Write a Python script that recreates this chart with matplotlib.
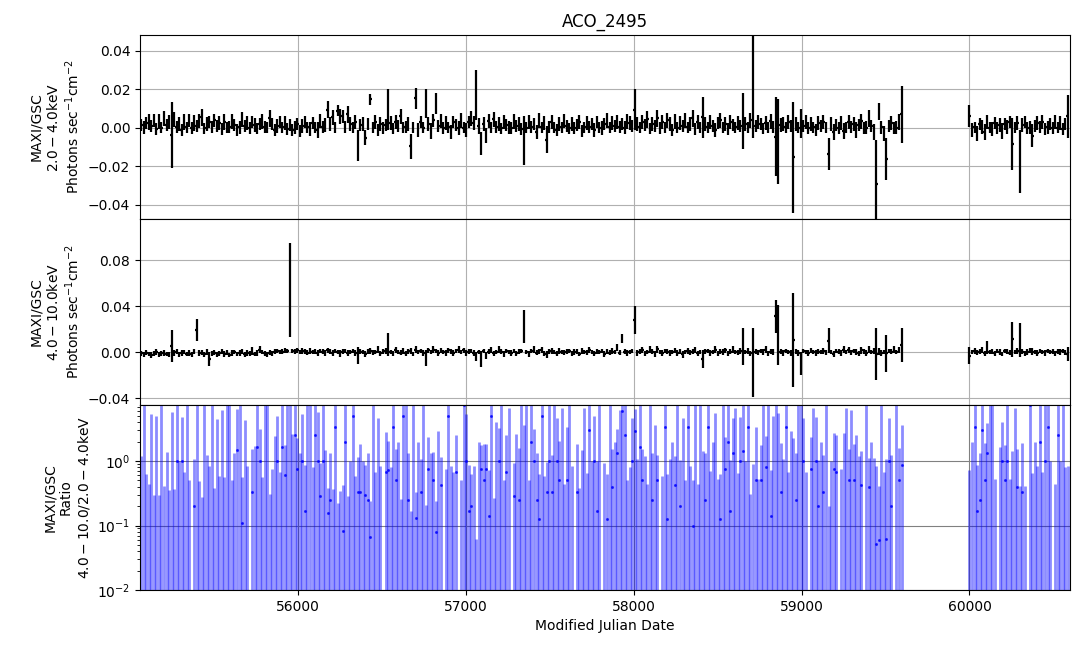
import numpy as np
import matplotlib
matplotlib.use("Agg")
import matplotlib.pyplot as plt

TITLE = "ACO_2495"
BIN_DAYS = 15.0
SEG1_START = 55065.0
SEG2_START = 60000.0

# 2.0-4.0 keV rate (units of 1e-3 photons/s/cm2), segment 1 then segment 2
y1_seg1 = [
    1.5, 0.3, 2.5, 3.0, 1.0, 4.0, -0.5, 3.5, 0.2, 5.0, 1.5, 3.0, -3.8, 4.5, 0.5,
    2.0, -1.0, 3.0, 0.3, 4.0, 0.0, 2.5, 1.0, 3.5, 5.5, -0.2, 2.0, 3.0, 0.5, 4.0,
    1.0, 2.5, -0.5, 3.0, 0.2, 0.5, 3.5, 1.5, -1.0, 0.3, 4.5, 1.0, 2.5, 0.0, 3.0,
    1.5, -0.3, 2.0, 3.5, 0.5, 0.2, 5.0, 2.0, -1.0, 1.0, 3.0, 0.3, 2.5, -0.5, 1.5,
    -1.0, 0.2, 2.0, -1.5, 1.0, 3.0, 0.3, -0.5, 2.5, 0.2, -1.0, 3.5, 0.5, 1.5, 9.5,
    2.0, 5.5, 0.3, 9.0, 6.0, 6.0, 0.5, 7.0, 2.0, 0.2, 3.0, -9.0, 1.5, 2.0, -5.0,
    2.0, 14.8, 0.3, 3.0, -1.0, 2.0, 0.0, 1.5, 9.5, 2.5, -0.3, 3.0, 1.0, 6.0, 0.2,
    0.5, 2.0, -9.5, 0.3, 15.5, -1.0, 3.0, 0.2, 12.5, 2.0, -1.5, 4.0, 12.5, 1.0, 3.5,
    0.0, 2.5, 0.3, -2.0, 3.0, 1.5, 0.0, 4.0, 0.2, -1.0, 3.0, 5.0, 2.5, 17.0, 1.0,
    -8.0, 2.0, -4.0, 3.5, 0.3, 4.5, 0.5, 2.0, -0.2, 3.0, 1.5, 0.3, 0.0, 3.5, 1.0,
    2.0, -0.5, -6.5, 0.2, 3.0, 0.5, 2.0, -2.0, 4.0, 0.3, 2.5, -6.0, 0.5, 3.0, 0.2,
    -1.0, 2.0, 0.3, 3.5, 1.0, -0.2, 2.0, 0.0, 1.5, 3.0, -1.5, 0.3, 2.5, 0.5, 2.0,
    -1.0, 3.0, 0.2, 0.0, 2.0, 4.0, 0.3, 2.5, 1.0, 3.0, 0.5, 2.0, 0.2, 3.5, 2.5,
    1.0, 9.5, 2.0, 0.3, 3.0, 1.5, 4.5, -0.2, 2.0, 1.0, 5.0, 0.0, 3.0, 0.3, 4.0,
    2.0, -1.0, 3.5, 0.2, 2.5, 1.0, 4.0, 0.3, 2.0, 5.0, -0.5, 3.0, 0.2, 5.5, 2.0,
    0.3, 3.0, 1.0, -1.0, 2.5, 4.0, 0.2, 2.0, -0.5, 3.0, 1.5, 0.3, 2.5, 1.0, 3.5,
    2.0, 0.3, 4.0, 25.5, 1.0, 3.0, 2.0, -0.3, 2.5, 0.2, 3.5, 0.5, -4.5, -7.0, 1.5,
    2.0, 0.3, 3.0, 1.0, -15.2, 2.0, 0.2, 2.5, 1.0, 3.0, 0.0, 2.0, 0.3, -1.0, 2.5,
    1.0, 3.0, 0.2, -13.5, 2.0, -2.0, 1.5, 0.0, 2.5, -1.5, 0.3, 3.0, 0.5, 2.0, -1.0,
    1.5, 3.5, 0.0, 0.2, 5.0, 1.0, -2.0, -29.0, 8.5, 0.3, -3.0, -16.0, 1.0, 2.5, 0.0,
    0.2, 3.0, 7.0,
]
y1_seg2 = [
    6.2, -1.0, 0.3, -3.0, 2.0, 0.5, -2.0, 3.0, 0.2, -0.5, 2.5, 0.0, 1.5, -1.5, 2.0,
    0.5, 3.0, -8.5, 0.3, 2.5, -17.5, 1.5, 3.0, 0.0, 0.2, -4.0, 1.0, 2.5, 0.5, 3.0,
    -0.5, 0.3, 2.0, 0.0, 3.0, 0.2, 2.5, -0.5, 2.0, 6.0,
]
e1_seg1 = [
    3, 3.5, 3, 4, 3, 3.5, 3, 4, 3, 4, 3, 3.5, 17.2, 4, 3,
    3.5, 3, 4, 3, 3.5, 3, 4, 3, 3.5, 4.5, 3, 3.5, 3, 3, 3.5,
    3, 3.5, 3, 4, 3, 3, 4, 3, 3, 3.5, 4, 3, 3.5, 3, 3,
    3.5, 3, 3, 4, 3, 3, 4.5, 3, 3, 3.5, 3, 3, 3.5, 3, 3,
    3, 3.5, 3, 3, 3.5, 3, 3, 3.5, 3, 3, 4, 3.5, 3, 3.5, 4.5,
    3.5, 4, 3, 3, 4, 3.5, 3, 4.5, 3.5, 3, 3.5, 8, 3, 3.5, 4,
    3, 2.9, 3, 3.5, 3, 3.5, 3, 3, 10.5, 3.5, 3, 3.5, 3, 4, 3,
    3, 3.5, 6.5, 3, 5.5, 3.5, 3, 3, 7.5, 3.5, 4, 3.5, 5.5, 3, 3.5,
    3, 3.5, 3, 3.5, 3, 3, 3.5, 4, 3, 3.5, 3, 4, 3.5, 13, 4,
    6, 3.5, 4, 3.5, 3, 4, 3, 3.5, 3, 3.5, 3, 3.5, 3, 4, 3,
    3.5, 3, 12.5, 3, 3.5, 3, 3, 3.5, 4, 3, 3.5, 7, 3, 3.5, 3,
    3, 3.5, 3, 3.5, 3, 3, 3.5, 3, 3, 3.5, 3, 3, 3.5, 3, 3,
    3.5, 3, 3, 3.5, 3, 4, 3, 3.5, 3, 3.5, 3, 3, 3.5, 4, 3.5,
    3, 10.5, 3.5, 3, 3.5, 3, 4.5, 3, 3.5, 3, 4.5, 3, 3.5, 3, 4,
    3.5, 3, 4, 3, 3.5, 3, 4, 3, 3.5, 4.5, 3, 3.5, 3, 10.5, 3.5,
    3, 3.5, 3, 3.5, 3, 4, 3, 3.5, 3, 3.5, 3, 3, 3.5, 3, 14.5,
    3.5, 3, 4, 30.5, 3, 3.5, 3, 3, 3.5, 3, 4, 3, 20.5, 22, 3.5,
    3.5, 3, 3.5, 3, 28.8, 3.5, 3, 7.5, 3, 3.5, 3, 3.5, 3, 3, 3.5,
    3, 3.5, 3, 8.5, 3.5, 4, 3, 3, 3.5, 4, 3, 3.5, 3, 3.5, 4,
    3, 4, 3, 3.5, 4.5, 3, 4, 23, 4.5, 3.5, 4, 11, 3, 3.5, 3,
    3.5, 4, 15,
]
e1_seg2 = [
    5.8, 3.5, 3, 4, 3, 3.5, 4, 3.5, 3, 3.5, 3, 3, 3.5, 4, 3,
    3.5, 3, 13.5, 3, 3.5, 16.5, 3.5, 3, 3, 3.5, 6, 3, 3.5, 3, 3.5,
    3, 3.5, 3, 3, 3.5, 3, 3.5, 3, 3, 11,
]

# 4.0-10.0 keV rate (units of 1e-3 photons/s/cm2)
y2_seg1 = [
    -1.0, -2.0, -0.5, -1.5, -2.5, -1.0, 0.0, -2.0, -1.0, -0.5, -1.5, -2.0, 5.0, -1.0, 0.5,
    -2.0, -1.0, 0.0, -1.5, -0.5, -2.0, 0.5, 19.5, -1.0, -0.5, -2.0, 0.0, -6.0, -1.0, -0.5,
    -2.0, -1.0, 0.5, -1.5, -0.5, -2.5, -1.0, 0.0, -1.5, -1.0, 0.5, -2.0, -0.5, -1.0, 1.0,
    -1.5, -0.5, 2.0, 0.0, -1.0, -2.0, -0.5, -1.0, 0.5, 1.0, 0.0, 0.5, 1.5, 1.0, 54.0,
    1.0, 0.5, 1.5, 0.0, 1.0, 0.5, -0.5, 1.0, 0.0, 0.5, -1.0, 1.0, 0.5, -0.5, 1.5,
    0.5, -0.5, 1.0, 0.0, -1.0, 0.5, 1.0, -0.5, 0.0, 1.0, -1.0, -3.0, 0.5, 0.0, -1.5,
    0.5, 1.0, -0.5, 0.0, 2.0, -1.0, 0.5, 1.0, 7.0, 0.0, -1.0, 1.5, 0.0, -0.5, 1.0,
    -1.0, 0.5, 1.0, -1.5, 2.0, 0.0, 1.0, -0.5, -5.0, 1.5, 0.0, 2.0, 1.0, -1.0, 1.5,
    0.0, -1.0, 1.5, 0.5, -0.5, 1.0, 2.0, 0.0, 1.5, -1.0, 0.5, 1.0, -0.5, -4.0, 0.0,
    -6.0, 1.0, -3.0, 0.5, 1.5, -1.0, 0.0, 2.0, 0.5, -1.5, 1.0, 0.0, -0.5, 1.0, -1.0,
    0.5, 1.0, 22.5, 0.0, -1.5, 1.0, 2.0, -0.5, 0.5, 1.5, -1.0, -2.0, 0.5, 1.0, 0.0,
    -1.0, 1.0, 0.0, -0.5, 0.5, 1.0, -1.0, 0.0, 0.5, -1.5, 1.0, 0.0, -0.5, 1.5, 0.0,
    -1.0, 0.5, 0.0, 1.0, -1.5, 0.5, -0.5, 1.0, 0.0, 4.0, -0.5, 12.0, 0.5, -1.0, 0.0,
    1.0, 28.0, -0.5, 0.5, 1.5, -1.0, 0.0, 2.0, 0.5, -1.5, 2.5, 0.0, -1.0, 1.0, 0.5,
    -0.5, 0.0, 1.5, -1.0, 0.5, -2.0, 0.0, 1.0, -0.5, 0.5, 1.5, -1.0, 0.0, -6.0, 0.5,
    1.0, -0.5, 0.0, 2.0, -1.0, 0.5, 0.0, 1.5, -1.0, 0.5, 2.0, 0.0, -0.5, 1.0, 5.0,
    0.0, 1.0, -1.0, -9.0, 0.5, -0.5, 1.0, 0.0, 2.0, -1.0, 0.5, 0.0, 31.0, 15.0, 0.5,
    -0.5, 1.0, 0.0, -1.0, 10.5, 0.5, -0.5, -10.0, 1.0, 0.0, -0.5, 1.5, 0.0, -1.0, 0.5,
    0.0, 1.0, -0.5, 10.0, 0.0, -1.5, 1.0, 0.5, -1.0, 2.0, 0.0, 1.5, -0.5, 1.0, 0.0,
    -1.0, 1.5, 0.5, -0.5, 2.0, 0.0, 1.0, -1.5, 0.5, -1.0, 0.0, -1.0, 1.0, 0.5, 2.0,
    0.0, 1.5, 6.0,
]
y2_seg2 = [
    -3.0, 0.0, 1.0, -0.5, 0.5, 1.5, -1.0, 4.0, 0.0, 0.5, -1.0, 1.0, 0.0, -1.5, 1.0,
    0.5, -0.5, 11.0, 0.0, 1.0, 10.5, 0.5, -1.0, 0.0, 1.5, 0.5, 0.0, -0.5, 1.0, 0.0,
    -0.5, 1.0, 0.0, 0.5, -1.0, 0.5, 0.0, 1.0, -0.5, -2.0,
]
e2_seg1 = [
    2, 2.5, 2, 2, 2.5, 2, 2.5, 2, 2, 2.5, 2, 2, 14, 2.5, 2,
    2, 2.5, 2, 2, 2.5, 2, 2, 9.5, 2.5, 2, 2, 2.5, 6, 2, 2,
    2.5, 2, 2, 2.5, 2, 2, 2.5, 2, 2, 2.5, 2, 2, 2.5, 2, 3.5,
    2, 2.5, 3, 2, 2, 2.5, 2, 2, 2.5, 2, 2, 2.5, 2, 2, 41,
    2, 2.5, 2, 2, 2.5, 2, 2, 2.5, 2, 2, 2.5, 2, 2, 2.5, 2,
    2, 2.5, 2, 2, 3, 2, 2, 2.5, 2, 2, 2.5, 7, 2, 2, 2.5,
    2, 2.5, 2, 2, 3, 2, 2, 2.5, 10, 2, 2, 2.5, 2, 2, 2.5,
    2, 2, 2.5, 2, 3, 2, 2, 2.5, 7, 2, 2, 3, 2, 2.5, 2,
    2, 2.5, 2, 2, 2.5, 2, 3, 2, 2, 2.5, 2, 2, 2.5, 4, 2,
    7, 2, 3, 2, 2.5, 2, 2, 3, 2, 2.5, 2, 2, 2.5, 2, 2,
    2.5, 2, 14.5, 2, 2.5, 2, 3, 2, 2, 2.5, 2, 3, 2, 2.5, 2,
    2, 2.5, 2, 2, 2.5, 2, 2, 2.5, 2, 2, 2.5, 2, 2, 2.5, 2,
    2, 2.5, 2, 2, 2.5, 2, 2, 2.5, 2, 3, 2, 4, 2, 2.5, 2,
    2, 12, 2.5, 2, 2.5, 2, 2, 3, 2, 2.5, 3, 2, 2.5, 2, 2,
    2.5, 2, 2, 2.5, 2, 3, 2, 2.5, 2, 2, 2.5, 2, 2, 8, 2,
    2, 2.5, 2, 3, 2, 2, 2.5, 2, 2, 2.5, 3, 2, 2, 2.5, 16,
    2, 2.5, 2, 30, 2.5, 2, 2, 2.5, 3, 2, 2, 2.5, 14, 26, 2,
    2.5, 2, 2, 2.5, 40.5, 2, 2.5, 10, 2, 2, 2.5, 2, 2, 2.5, 2,
    2, 2.5, 2, 11, 2, 2.5, 2, 2, 2.5, 3, 2, 2.5, 2, 2, 2.5,
    2, 3, 2, 2.5, 3, 2, 2.5, 22.5, 3, 2.5, 2, 16, 2, 2.5, 3,
    2, 2.5, 15,
]
e2_seg2 = [
    7, 2, 2.5, 2, 2, 2.5, 2, 6, 2, 2.5, 2, 2, 2.5, 2, 2,
    2.5, 2, 15, 2, 2.5, 14.5, 2, 2, 2.5, 2, 3, 2, 2.5, 2, 2,
    2.5, 2, 2, 2.5, 2, 2, 2.5, 2, 2, 6,
]

ylabel_soft = "MAXI/GSC\n$2.0-4.0$keV\nPhotons sec$^{-1}$cm$^{-2}$"
ylabel_hard = "MAXI/GSC\n$4.0-10.0$keV\nPhotons sec$^{-1}$cm$^{-2}$"
ylabel_ratio = "MAXI/GSC\nRatio\n$4.0-10.0/2.0-4.0$keV"
xlabel = "Modified Julian Date"

# ---- assemble ----
n1, n2 = len(y1_seg1), len(y1_seg2)
t = np.concatenate([SEG1_START + BIN_DAYS * np.arange(n1),
                    SEG2_START + BIN_DAYS * np.arange(n2)])
scale = 1e-3
y1 = np.array(y1_seg1 + y1_seg2) * scale
e1 = np.array(e1_seg1 + e1_seg2) * scale
y2 = np.array(y2_seg1 + y2_seg2) * scale
e2 = np.array(e2_seg1 + e2_seg2) * scale
m = min(len(t), len(y1), len(e1), len(y2), len(e2))
t, y1, e1, y2, e2 = t[:m], y1[:m], e1[:m], y2[:m], e2[:m]

with np.errstate(divide="ignore", invalid="ignore"):
    ratio = y2 / y1
    ratio_err = np.sqrt((e2 / y1) ** 2 + (y2 * e1 / y1 ** 2) ** 2)
ok = np.isfinite(ratio) & np.isfinite(ratio_err)

fig = plt.figure(figsize=(10.85, 6.54), dpi=100)
left, right = 140 / 1085, 1070 / 1085
tops = [35, 219, 405, 590]
axes = []
for k in range(3):
    b = 1 - tops[k + 1] / 654
    h = (tops[k + 1] - tops[k]) / 654
    ax = fig.add_axes([left, b, right - left, h], sharex=axes[0] if axes else None)
    axes.append(ax)
ax1, ax2, ax3 = axes

ax1.errorbar(t, y1, xerr=BIN_DAYS / 2, yerr=e1, fmt="none", ecolor="black", elinewidth=1.6)
ax2.errorbar(t, y2, xerr=BIN_DAYS / 2, yerr=e2, fmt="none", ecolor="black", elinewidth=1.6)
ax3.errorbar(t[ok], ratio[ok], yerr=ratio_err[ok], fmt="none",
             ecolor="blue", elinewidth=2.0, alpha=0.45)
ax3.plot(t[ok], ratio[ok], "o", ms=1.2, color="blue", alpha=0.7)
ax3.set_yscale("log")

ax1.set_ylim(-0.0473, 0.0483)
ax1.set_yticks([-0.04, -0.02, 0.0, 0.02, 0.04])
ax2.set_ylim(-0.046, 0.1157)
ax2.set_yticks([-0.04, 0.0, 0.04, 0.08])
ax3.set_ylim(0.01, 7.4)
ax3.set_xlim(55057, 60599)

for ax in axes:
    ax.grid(True, color="#b0b0b0", linewidth=0.8)
    ax.set_axisbelow(True)
ax3.grid(True, which="major", color="#808080", linewidth=0.8)
for ax in (ax1, ax2):
    ax.tick_params(labelbottom=False)

ax1.set_ylabel(ylabel_soft)
ax2.set_ylabel(ylabel_hard)
ax3.set_ylabel(ylabel_ratio)
ax3.set_xlabel(xlabel)
ax1.set_title(TITLE, fontsize=12)

fig.savefig("out.png", dpi=100)
